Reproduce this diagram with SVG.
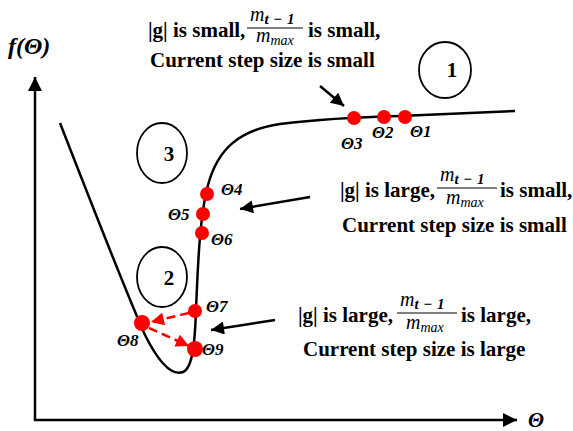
<svg xmlns="http://www.w3.org/2000/svg" width="573" height="431" viewBox="0 0 573 431">
<style>
.t{font-family:"Liberation Serif","Times New Roman",serif;font-weight:bold;font-size:21px;fill:#000}
.m{font-family:"Liberation Serif","Times New Roman",serif;font-style:italic;font-size:20px;fill:#000}
.sn{font-size:15px;font-weight:bold}
.sd{font-size:14px}
.lab{font-family:"Liberation Serif","Times New Roman",serif;font-style:italic;font-weight:bold;font-size:17px;fill:#000}
.bar{stroke:#000;stroke-width:1.2}
.ax{stroke:#000;stroke-width:2.5;fill:none}
.circ{fill:none;stroke:#000;stroke-width:1.8}
.dot{fill:#ff0000}
.arr{stroke:#000;stroke-width:2.5;fill:none}
.rarr{stroke:#ff0000;stroke-width:2.5;fill:none;stroke-dasharray:9 5}
</style>
<defs>
<marker id="ah" viewBox="0 0 10 10" refX="10" refY="5" markerWidth="17" markerHeight="13" markerUnits="userSpaceOnUse" orient="auto"><path d="M0,0 L10,5 L0,10 z" fill="#000"/></marker>
<marker id="axh" viewBox="0 0 10 10" refX="10" refY="5" markerWidth="16" markerHeight="14" markerUnits="userSpaceOnUse" orient="auto"><path d="M0,0 L10,5 L0,10 z" fill="#000"/></marker>
<marker id="rh" viewBox="0 0 10 10" refX="10" refY="5" markerWidth="14" markerHeight="13" markerUnits="userSpaceOnUse" orient="auto"><path d="M0,0 L10,5 L0,10 z" fill="#ff0000"/></marker>
</defs>
<rect width="573" height="431" fill="#fff"/>

<g id="axes">
<line class="ax" x1="35" y1="421" x2="35" y2="77" marker-end="url(#axh)"/>
<line class="ax" x1="34" y1="420" x2="517" y2="420" marker-end="url(#axh)"/>
<text class="lab" x="8" y="54" style="font-size:24px">f(Θ)</text>
<text class="lab" x="528" y="427" style="font-size:21px">Θ</text>
</g>

<g id="curve">
<path d="M60,123 C90,200 125,290 145,335 C160,365 172,376 183,372 C193,368 195,340 196,310 C198,260 200,215 208,185 C218,148 240,130 280,124 C320,119 360,117 400,116 L515,111" fill="none" stroke="#000" stroke-width="2.5"/>
</g>

<g id="region1"><ellipse class="circ" cx="445" cy="70" rx="26" ry="28"/><text class="t" x="452" y="77" text-anchor="middle">1</text></g>
<g id="region2"><ellipse class="circ" cx="162" cy="277" rx="25" ry="30"/><text class="t" x="169" y="285" text-anchor="middle">2</text></g>
<g id="region3"><ellipse class="circ" cx="162" cy="153" rx="25" ry="30"/><text class="t" x="169" y="161" text-anchor="middle">3</text></g>

<g id="theta1"><circle class="dot" cx="405" cy="117" r="7"/><text class="lab" x="410" y="137">Θ1</text></g>
<g id="theta2"><circle class="dot" cx="384" cy="117" r="7"/><text class="lab" x="372" y="138">Θ2</text></g>
<g id="theta3"><circle class="dot" cx="354" cy="118" r="7"/><text class="lab" x="341" y="149">Θ3</text></g>
<g id="theta4"><circle class="dot" cx="207" cy="194" r="7"/><text class="lab" x="221" y="195">Θ4</text></g>
<g id="theta5"><circle class="dot" cx="203" cy="214" r="7"/><text class="lab" x="168" y="220">Θ5</text></g>
<g id="theta6"><circle class="dot" cx="202" cy="233" r="7"/><text class="lab" x="211" y="245">Θ6</text></g>
<g id="theta7"><circle class="dot" cx="195" cy="311" r="7"/><text class="lab" x="206" y="312">Θ7</text></g>
<g id="theta8"><circle class="dot" cx="142" cy="323" r="8"/><text class="lab" x="117" y="346">Θ8</text></g>
<g id="theta9"><circle class="dot" cx="195" cy="349" r="8"/><text class="lab" x="202" y="355">Θ9</text></g>

<g id="note-top">
<text class="t" x="148" y="37">|g| is small,</text>
<text class="m" x="250" y="21">m<tspan class="sn" dy="3" textLength="30" lengthAdjust="spacing">t−1</tspan></text>
<line class="bar" x1="247" y1="28" x2="303" y2="28"/>
<text class="m" x="256" y="42">m<tspan class="sd" dy="3">max</tspan></text>
<text class="t" x="308" y="37">is small,</text>
<text class="t" x="150" y="67">Current step size is small</text>
</g>

<g id="note-mid">
<text class="t" x="340" y="197">|g| is large,</text>
<text class="m" x="440" y="181">m<tspan class="sn" dy="3" textLength="30" lengthAdjust="spacing">t−1</tspan></text>
<line class="bar" x1="437" y1="188" x2="497" y2="188"/>
<text class="m" x="446" y="204">m<tspan class="sd" dy="3">max</tspan></text>
<text class="t" x="500" y="197">is small,</text>
<text class="t" x="342" y="232">Current step size is small</text>
</g>

<g id="note-bot">
<text class="t" x="298" y="322">|g| is large,</text>
<text class="m" x="400" y="306">m<tspan class="sn" dy="3" textLength="30" lengthAdjust="spacing">t−1</tspan></text>
<line class="bar" x1="397" y1="313" x2="457" y2="313"/>
<text class="m" x="406" y="329">m<tspan class="sd" dy="3">max</tspan></text>
<text class="t" x="461" y="322">is large,</text>
<text class="t" x="303" y="356">Current step size is large</text>
</g>

<g id="connectors">
<line class="arr" x1="320" y1="86" x2="344" y2="106" marker-end="url(#ah)"/>
<line class="arr" x1="310" y1="197" x2="240" y2="209" marker-end="url(#ah)"/>
<line class="arr" x1="275" y1="320" x2="211" y2="330" marker-end="url(#ah)"/>
<line class="rarr" x1="189" y1="313" x2="151" y2="322" marker-end="url(#rh)"/>
<line class="rarr" x1="149" y1="328" x2="189" y2="346" marker-end="url(#rh)"/>
</g>
</svg>
